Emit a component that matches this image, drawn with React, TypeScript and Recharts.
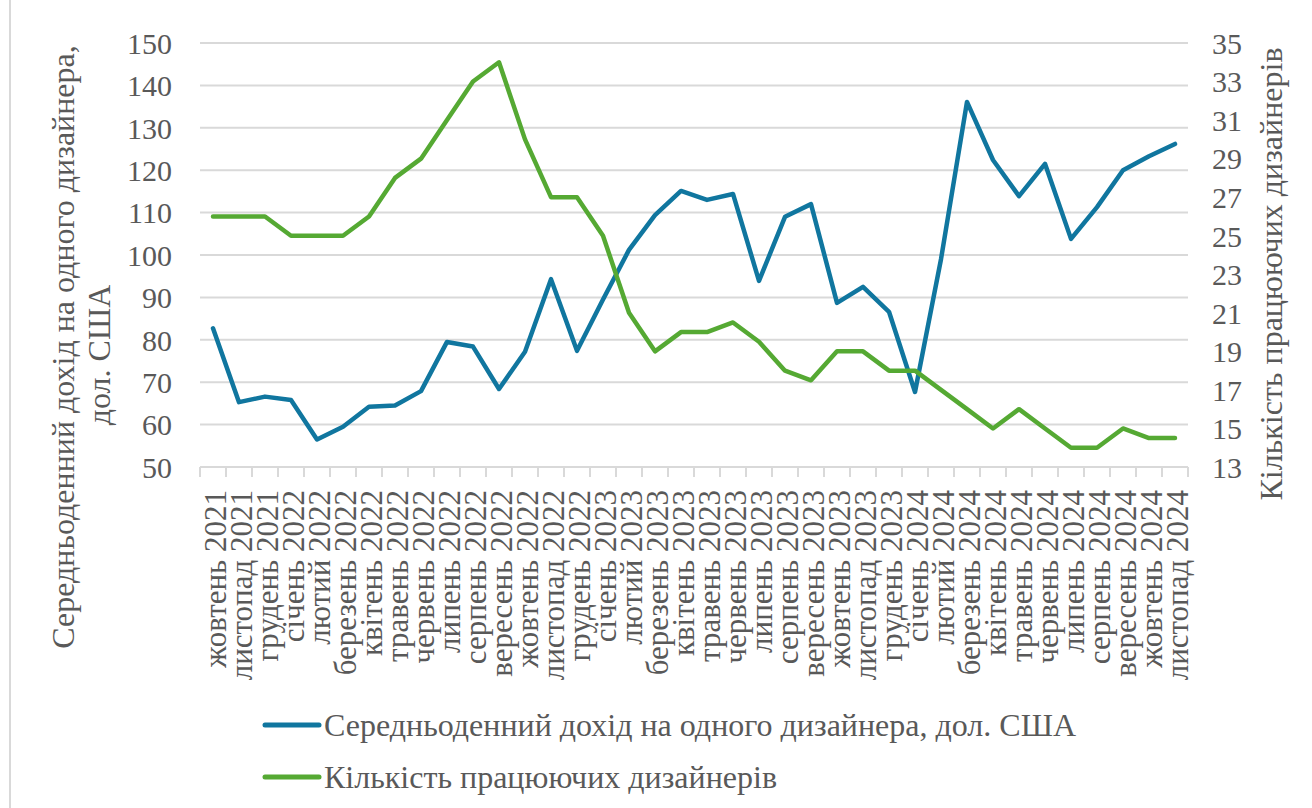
import React from "react";
import {
  LineChart,
  Line,
  XAxis,
  YAxis,
  CartesianGrid,
  Legend,
} from "recharts";

const months = [
  "жовтень 2021", "листопад 2021", "грудень 2021",
  "січень 2022", "лютий 2022", "березень 2022", "квітень 2022", "травень 2022", "червень 2022",
  "липень 2022", "серпень 2022", "вересень 2022", "жовтень 2022", "листопад 2022", "грудень 2022",
  "січень 2023", "лютий 2023", "березень 2023", "квітень 2023", "травень 2023", "червень 2023",
  "липень 2023", "серпень 2023", "вересень 2023", "жовтень 2023", "листопад 2023", "грудень 2023",
  "січень 2024", "лютий 2024", "березень 2024", "квітень 2024", "травень 2024", "червень 2024",
  "липень 2024", "серпень 2024", "вересень 2024", "жовтень 2024", "листопад 2024",
];

// середньоденний дохід, дол. США (ліва вісь)
const incomeValues = [
  82.7, 65.3, 66.6, 65.8, 56.5, 59.5, 64.2, 64.5, 67.9, 79.5, 78.4, 68.4, 77.2, 94.3, 77.4,
  89.5, 101.2, 109.4, 115.1, 113, 114.4, 93.9, 109, 112, 88.7, 92.5, 86.6,
  67.7, 99, 136.1, 122.4, 113.9, 121.5, 103.8, 111.3, 120, 123.3, 126.2,
];

// кількість працюючих дизайнерів (права вісь)
const designerCounts = [
  26, 26, 26, 25, 25, 25, 26, 28, 29, 31, 33, 34, 30, 27, 27,
  25, 21, 19, 20, 20, 20.5, 19.5, 18, 17.5, 19, 19, 18,
  18, 17, 16, 15, 16, 15, 14, 14, 15, 14.5, 14.5,
];

const leftTicks = [50, 60, 70, 80, 90, 100, 110, 120, 130, 140, 150];
const rightTicks = [13, 15, 17, 19, 21, 23, 25, 27, 29, 31, 33, 35];

const incomeName = "Середньоденний дохід на одного дизайнера, дол. США";
const countName = "Кількість працюючих дизайнерів";

const BLUE = "#10769f";
const GREEN = "#55a933";
const TEXT = "#595959";
const GRID = "#d9d9d9";
const FONT = "Liberation Serif";

const W = 1312;
const H = 808;
const LEFT_W = 200;
const RIGHT_W = 124;
const STEP = (W - LEFT_W - RIGHT_W) / months.length;

const chartData = months.map((m, i) => ({
  month: m,
  income: incomeValues[i],
  count: designerCounts[i],
}));

const textStyle = { fontFamily: FONT };

function MonthTick(props: any) {
  const { x, y, payload, index } = props;
  return (
    <g>
      <line x1={x - STEP / 2} y1={y} x2={x - STEP / 2} y2={y + 10} stroke={GRID} strokeWidth={2} />
      {index === months.length - 1 && (
        <line x1={x + STEP / 2} y1={y} x2={x + STEP / 2} y2={y + 10} stroke={GRID} strokeWidth={2} />
      )}
      <text
        transform={`translate(${x + 1},${y + 23}) rotate(-90)`}
        textAnchor="end"
        dy="0.38em"
        fill={TEXT}
        fontSize={31}
        style={textStyle}
      >
        {payload.value}
      </text>
    </g>
  );
}

function ValueTick(props: any) {
  const { x, y, payload, textAnchor } = props;
  return (
    <text x={x} y={y} dy="0.36em" textAnchor={textAnchor} fill={TEXT} fontSize={30} style={textStyle}>
      {payload.value}
    </text>
  );
}

function LeftTitle() {
  return (
    <g fill={TEXT} fontSize={32} style={textStyle}>
      <text transform="translate(74,347) rotate(-90)" textAnchor="middle" style={textStyle}>
        Середньоденний дохід на одного дизайнера,
      </text>
      <text transform="translate(110,355) rotate(-90)" textAnchor="middle" style={textStyle}>
        дол. США
      </text>
    </g>
  );
}

function RightTitle() {
  return (
    <text
      transform="translate(1282,274) rotate(-90)"
      textAnchor="middle"
      fill={TEXT}
      fontSize={32}
      style={textStyle}
    >
      {countName}
    </text>
  );
}

function LegendBox() {
  const rows = [
    { color: BLUE, label: incomeName },
    { color: GREEN, label: countName },
  ];
  return (
    <div style={{ fontFamily: FONT, fontSize: 32, color: TEXT }}>
      {rows.map((r) => (
        <div key={r.label} style={{ display: "flex", alignItems: "center", height: 52 }}>
          <svg width={60} height={8} style={{ display: "block" }}>
            <line x1={3} y1={4} x2={57} y2={4} stroke={r.color} strokeWidth={5} strokeLinecap="round" />
          </svg>
          <span style={{ marginLeft: 2, whiteSpace: "nowrap" }}>{r.label}</span>
        </div>
      ))}
    </div>
  );
}

export default function App() {
  return (
    <div
      style={{
        position: "absolute",
        left: 0,
        top: 0,
        width: W,
        height: H,
        background: "#fff",
        fontFamily: FONT,
      }}
    >
      <div
        style={{
          position: "absolute",
          left: 9,
          top: -1,
          width: W - 9,
          height: H + 1,
          borderLeft: `2px solid ${GRID}`,
          boxSizing: "border-box",
        }}
      />
      <LineChart
        width={W}
        height={H}
        data={chartData}
        margin={{ top: 43, right: 0, bottom: 91, left: 0 }}
        style={{ fontFamily: FONT }}
      >
        <CartesianGrid yAxisId="left" vertical={false} stroke={GRID} strokeWidth={2} />
        <XAxis
          dataKey="month"
          interval={0}
          height={250}
          padding={{ left: STEP / 2, right: STEP / 2 }}
          tickLine={false}
          tickSize={0}
          tickMargin={0}
          axisLine={{ stroke: GRID, strokeWidth: 2 }}
          tick={<MonthTick />}
        />
        <YAxis
          yAxisId="left"
          width={LEFT_W}
          domain={[50, 150]}
          ticks={leftTicks}
          interval={0}
          axisLine={false}
          tickLine={false}
          tickSize={0}
          tickMargin={28}
          tick={<ValueTick />}
          label={<LeftTitle />}
        />
        <YAxis
          yAxisId="right"
          orientation="right"
          width={RIGHT_W}
          domain={[13, 35]}
          ticks={rightTicks}
          interval={0}
          axisLine={false}
          tickLine={false}
          tickSize={0}
          tickMargin={24}
          tick={<ValueTick />}
          label={<RightTitle />}
        />
        <Legend
          layout="vertical"
          align="center"
          verticalAlign="middle"
          wrapperStyle={{ left: 262, top: 699, width: "auto" }}
          content={<LegendBox />}
        />
        <Line
          yAxisId="left"
          type="linear"
          dataKey="income"
          name={incomeName}
          stroke={BLUE}
          strokeWidth={4.5}
          strokeLinejoin="round"
          strokeLinecap="round"
          dot={false}
          activeDot={false}
          isAnimationActive={false}
        />
        <Line
          yAxisId="right"
          type="linear"
          dataKey="count"
          name={countName}
          stroke={GREEN}
          strokeWidth={4.5}
          strokeLinejoin="round"
          strokeLinecap="round"
          dot={false}
          activeDot={false}
          isAnimationActive={false}
        />
      </LineChart>
    </div>
  );
}
